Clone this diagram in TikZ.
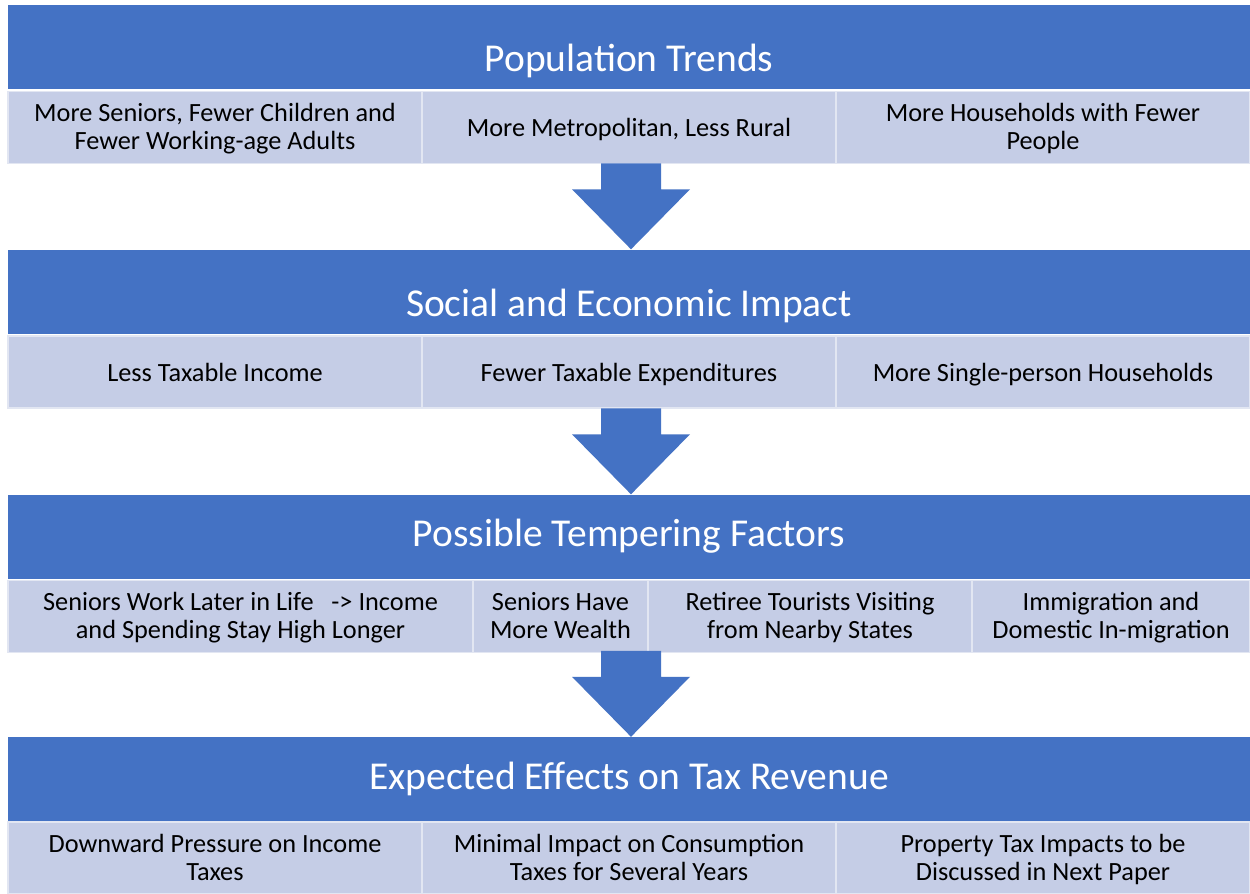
\documentclass[tikz,border=0pt]{standalone}
\usepackage{fontspec}
\setmainfont{Carlito}
\usepackage{tikz}
\usetikzlibrary{positioning,calc}

\definecolor{hdrblue}{RGB}{68,114,196}
\definecolor{cellblue}{RGB}{197,205,230}
\definecolor{cellline}{RGB}{226,230,242}
\tikzset{
  hdr/.style={fill=hdrblue, minimum width=1242pt, minimum height=84pt, inner sep=0pt},
  ttl/.style={text=white, font=\fontsize{39.5}{44}\selectfont, inner sep=0pt},
  cell/.style={fill=cellblue, draw=cellline, line width=1.2pt, minimum height=72pt, inner sep=0pt, align=center, text depth=2pt, font=\fontsize{26.3}{28}\selectfont},
  oneline/.style={text height=22pt, text depth=4pt},
  blockarrow/.style={fill=hdrblue}
}

\begin{document}
\begin{tikzpicture}[x=1pt,y=-1pt]
\useasboundingbox[fill=white] (0,0) rectangle (1250,894);

% Population Trends
\node[hdr] (h1) at (629,47) {};
\node[ttl] (t1) at ([yshift=-14pt]h1.center) {Population Trends};
\node[cell, minimum width=414pt] (c11) at (215,127.5) {More Seniors, Fewer Children and\\Fewer Working-age Adults};
\node[cell, oneline, minimum width=414pt] (c12) at (629,127.5) {More Metropolitan, Less Rural};
\node[cell, minimum width=414pt] (c13) at (1043,127.5) {More Households with Fewer\\People};

% Social and Economic Impact
\node[hdr] (h2) at (629,291.5) {};
\node[ttl] (t2) at ([yshift=-14pt]h2.center) {Social and Economic Impact};
\node[cell, oneline, minimum width=414pt] (c21) at (215,372) {Less Taxable Income};
\node[cell, oneline, minimum width=414pt] (c22) at (629,372) {Fewer Taxable Expenditures};
\node[cell, oneline, minimum width=414pt] (c23) at (1043,372) {More Single-person Households};

% Possible Tempering Factors
\node[hdr] (h3) at (629,536.5) {};
\node[ttl] (t3) at (h3.center) {Possible Tempering Factors};
\node[cell, minimum width=465pt] (c31) at (240.5,616.5) {Seniors Work Later in Life\ \ \ -> Income\\and Spending Stay High Longer};
\node[cell, minimum width=175pt] (c32) at (560.5,616.5) {Seniors Have\\More Wealth};
\node[cell, minimum width=324pt] (c33) at (810,616.5) {Retiree Tourists Visiting\\from Nearby States};
\node[cell, minimum width=278pt] (c34) at (1111,616.5) {Immigration and\\Domestic In-migration};

% Expected Effects on Tax Revenue
\node[hdr] (h4) at (629,779) {};
\node[ttl] (t4) at (h4.center) {Expected Effects on Tax Revenue};
\node[cell, minimum width=414pt] (c41) at (215,858) {Downward Pressure on Income\\Taxes};
\node[cell, minimum width=414pt] (c42) at (629,858) {Minimal Impact on Consumption\\Taxes for Several Years};
\node[cell, minimum width=414pt] (c43) at (1043,858) {Property Tax Impacts to be\\Discussed in Next Paper};

% arrows between the bands
\fill[blockarrow] ($(h2.north)+(-28pt,86pt)$) -- ++(0,-26pt) -- ++(-29pt,0) -- ($(h2.north)+(2pt,0)$) -- ++(59pt,60pt) -- ++(-29pt,0) -- ++(0,26pt) -- cycle;
\fill[blockarrow] ($(h3.north)+(-28pt,86pt)$) -- ++(0,-26pt) -- ++(-29pt,0) -- ($(h3.north)+(2pt,0)$) -- ++(59pt,60pt) -- ++(-29pt,0) -- ++(0,26pt) -- cycle;
\fill[blockarrow] ($(h4.north)+(-28pt,86pt)$) -- ++(0,-26pt) -- ++(-29pt,0) -- ($(h4.north)+(2pt,0)$) -- ++(59pt,60pt) -- ++(-29pt,0) -- ++(0,26pt) -- cycle;
\end{tikzpicture}
\end{document}
